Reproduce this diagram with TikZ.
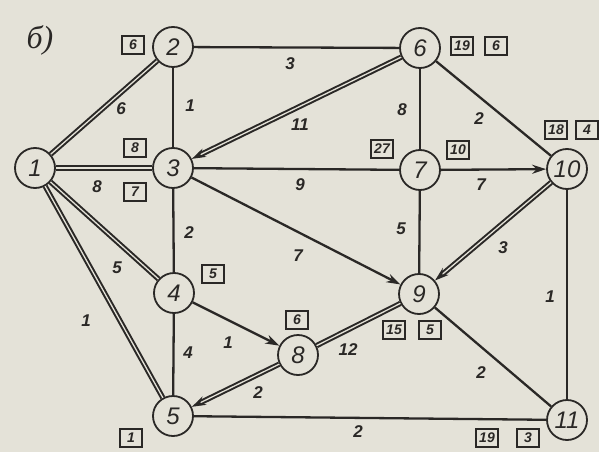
\documentclass[tikz,border=0pt]{standalone}
\usepackage{fontspec}
\setmainfont{Liberation Sans}
\newfontfamily\serfont{Liberation Serif}
\usetikzlibrary{arrows.meta}
\definecolor{bg}{RGB}{228,226,216}
\definecolor{ink}{RGB}{42,40,38}
\begin{document}
\begin{tikzpicture}[x=1pt,y=-1pt,
  nd/.style={circle, draw=ink, fill=bg, line width=1.8pt, minimum size=40pt, inner sep=0pt, text=ink, font=\fontsize{24}{24}\selectfont\itshape},
  thin/.style={draw=ink, line width=2.3pt},
  dbl/.style={draw=ink, line width=2pt, double=bg, double distance=1.3pt},
  arr/.style={-{Stealth[length=14pt,width=9pt]}},
  lbl/.style={text=ink, font=\fontsize{17}{17}\selectfont\bfseries\itshape, inner sep=0pt},
  bx/.style={draw=ink, line width=1.4pt, minimum width=22pt, minimum height=18pt, inner sep=1pt, text=ink, font=\fontsize{14}{14}\selectfont\bfseries\itshape}
]
\fill[bg] (0,0) rectangle (599,452);
\useasboundingbox (0,0) rectangle (599,452);

\node[text=ink, font=\serfont\fontsize{32}{32}\selectfont\itshape] (title) at (40,40) {б)};

\node[nd] (n1) at (35,168) {1};
\node[nd] (n2) at (173,47) {2};
\node[nd] (n3) at (173,168) {3};
\node[nd] (n4) at (174,293) {4};
\node[nd] (n5) at (173,416) {5};
\node[nd] (n6) at (420,48) {6};
\node[nd] (n7) at (420,170) {7};
\node[nd] (n8) at (298,355) {8};
\node[nd] (n9) at (419,294) {9};
\node[nd] (n10) at (567,169) {10};
\node[nd] (n11) at (567,420) {11};

% thin edges
\draw[thin] (n2) -- (n3);
\draw[thin] (n2) -- (n6);
\draw[thin] (n3) -- (n7);
\draw[thin] (n3) -- (n4);
\draw[thin,arr] (n3) -- (n9);
\draw[thin] (n6) -- (n7);
\draw[thin] (n6) -- (n10);
\draw[thin,arr] (n7) -- (n10);
\draw[thin] (n7) -- (n9);
\draw[thin] (n10) -- (n11);
\draw[thin,arr] (n4) -- (n8);
\draw[thin] (n4) -- (n5);
\draw[thin] (n9) -- (n11);
\draw[thin] (n5) -- (n11);
% double edges
\draw[dbl] (n1) -- (n2);
\draw[dbl] (n1) -- (n3);
\draw[dbl] (n1) -- (n4);
\draw[dbl] (n1) -- (n5);
\draw[dbl,arr] (n6) -- (n3);
\draw[dbl,arr] (n10) -- (n9);
\draw[dbl] (n8) -- (n9);
\draw[dbl,arr] (n8) -- (n5);

% edge weights
\node[lbl] (w12) at (121,109) {6};
\node[lbl] (w13) at (97,187) {8};
\node[lbl] (w14) at (117,268) {5};
\node[lbl] (w15) at (86,321) {1};
\node[lbl] (w23) at (190,106) {1};
\node[lbl] (w26) at (290,64) {3};
\node[lbl] (w63) at (300,125) {11};
\node[lbl] (w37) at (300,185) {9};
\node[lbl] (w34) at (189,233) {2};
\node[lbl] (w39) at (298,256) {7};
\node[lbl] (w67) at (402,110) {8};
\node[lbl] (w610) at (479,119) {2};
\node[lbl] (w710) at (481,185) {7};
\node[lbl] (w79) at (401,229) {5};
\node[lbl] (w109) at (503,248) {3};
\node[lbl] (w1011) at (550,297) {1};
\node[lbl] (w48) at (228,343) {1};
\node[lbl] (w45) at (188,353) {4};
\node[lbl] (w89) at (348,350) {12};
\node[lbl] (w85) at (258,393) {2};
\node[lbl] (w911) at (481,373) {2};
\node[lbl] (w511) at (358,432) {2};

% boxed labels
\node[bx] (b2) at (133,45) {6};
\node[bx] (b3a) at (135,148) {8};
\node[bx] (b3b) at (135,192) {7};
\node[bx] (b4) at (213,274) {5};
\node[bx] (b5) at (131,438) {1};
\node[bx] (b6a) at (462,46) {19};
\node[bx] (b6b) at (496,46) {6};
\node[bx] (b7a) at (382,149) {27};
\node[bx] (b7b) at (458,150) {10};
\node[bx] (b10a) at (556,130) {18};
\node[bx] (b10b) at (587,130) {4};
\node[bx] (b8) at (297,320) {6};
\node[bx] (b9a) at (394,330) {15};
\node[bx] (b9b) at (430,330) {5};
\node[bx] (b11a) at (487,438) {19};
\node[bx] (b11b) at (528,438) {3};
\end{tikzpicture}
\end{document}
